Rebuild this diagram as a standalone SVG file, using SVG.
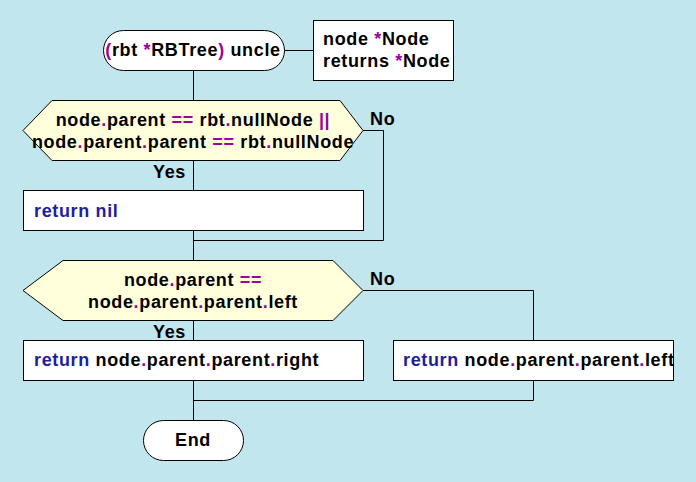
<svg xmlns="http://www.w3.org/2000/svg" width="696" height="482" viewBox="0 0 696 482">
<style>
text{font-family:"Liberation Sans",Arial,sans-serif;font-weight:bold;font-size:18px;letter-spacing:0.65px;fill:#000}
.k{fill:#1E1EA0}
.p{fill:#A000A0}
.box{fill:#fff;stroke:#000;stroke-width:1}
.dec{fill:#FFFFDC;stroke:#000;stroke-width:1}
.ln{fill:none;stroke:#000;stroke-width:1}
</style>
<rect width="696" height="482" fill="#C2E6EE"/>
<g id="connectors">
<path class="ln" d="M284.5 50.5H313.5"/>
<path class="ln" d="M193.5 70V100"/>
<path class="ln" d="M193.5 160V190"/>
<path class="ln" d="M363 130.5H383.5V240.5H193.5"/>
<path class="ln" d="M193.5 230V260"/>
<path class="ln" d="M363 290.5H533.5V340"/>
<path class="ln" d="M193.5 320V340"/>
<path class="ln" d="M533.5 380V400.5H193.5"/>
<path class="ln" d="M193.5 380V420"/>
<text x="370" y="125">No</text>
<text x="153" y="178">Yes</text>
<text x="370" y="285">No</text>
<text x="153" y="338">Yes</text>
</g>
<g id="start">
<rect class="box" x="103.5" y="30.5" width="181" height="40" rx="20"/>
<text x="193" y="56" text-anchor="middle"><tspan class="p">(</tspan>rbt <tspan class="p">*</tspan>RBTree<tspan class="p">)</tspan> uncle</text>
</g>
<g id="comment">
<rect class="box" x="313.5" y="20.5" width="140" height="60"/>
<text x="323" y="45">node <tspan class="p">*</tspan>Node</text>
<text x="323" y="67">returns <tspan class="p">*</tspan>Node</text>
</g>
<g id="cond1">
<polygon class="dec" points="23,130.5 52,100.5 340,100.5 363,130.5 340,160.5 52,160.5"/>
<text x="193" y="126" text-anchor="middle">node<tspan class="p">.</tspan>parent <tspan class="p">==</tspan> rbt<tspan class="p">.</tspan>nullNode <tspan class="p">||</tspan></text>
<text x="193" y="148" text-anchor="middle">node<tspan class="p">.</tspan>parent<tspan class="p">.</tspan>parent <tspan class="p">==</tspan> rbt<tspan class="p">.</tspan>nullNode</text>
</g>
<g id="retnil">
<rect class="box" x="23.5" y="190.5" width="340" height="40"/>
<text x="34" y="217"><tspan class="k">return nil</tspan></text>
</g>
<g id="cond2">
<polygon class="dec" points="23,290.5 63,260.5 333,260.5 363,290.5 333,320.5 63,320.5"/>
<text x="193" y="286" text-anchor="middle">node<tspan class="p">.</tspan>parent <tspan class="p">==</tspan></text>
<text x="193" y="308" text-anchor="middle">node<tspan class="p">.</tspan>parent<tspan class="p">.</tspan>parent<tspan class="p">.</tspan>left</text>
</g>
<g id="retright">
<rect class="box" x="23.5" y="340.5" width="340" height="40"/>
<text x="34" y="366"><tspan class="k">return</tspan> node<tspan class="p">.</tspan>parent<tspan class="p">.</tspan>parent<tspan class="p">.</tspan>right</text>
</g>
<g id="retleft">
<rect class="box" x="393.5" y="340.5" width="280" height="40"/>
<text x="403" y="366"><tspan class="k">return</tspan> node<tspan class="p">.</tspan>parent<tspan class="p">.</tspan>parent<tspan class="p">.</tspan>left</text>
</g>
<g id="end">
<rect class="box" x="143.5" y="420.5" width="100" height="40" rx="20"/>
<text x="193" y="446" text-anchor="middle">End</text>
</g>
</svg>
